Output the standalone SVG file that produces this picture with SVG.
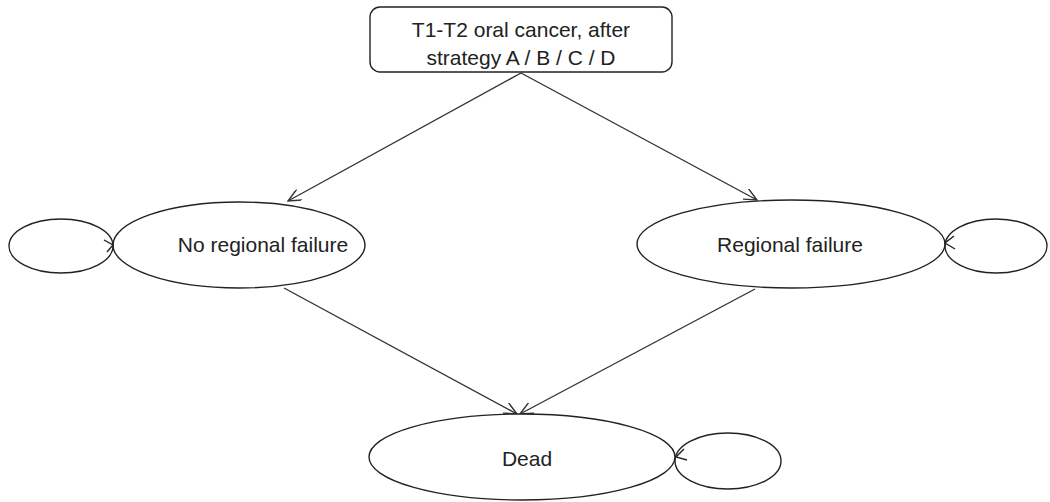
<svg xmlns="http://www.w3.org/2000/svg" width="1050" height="502" viewBox="0 0 1050 502">
<style>
.shape{fill:#fff;stroke:#222;stroke-width:1.4}
.loop{fill:none;stroke:#222;stroke-width:1.4}
.edge{fill:none;stroke:#333;stroke-width:1.4}
.lbl{font-family:"Liberation Sans",Arial,sans-serif;font-size:21px;fill:#222;text-anchor:middle}
</style>
<defs>
<marker id="arr" viewBox="0 0 14 12" refX="13" refY="6" markerWidth="14" markerHeight="12" markerUnits="userSpaceOnUse" orient="auto">
<path d="M0,0 L13,6 L0,12" fill="none" stroke="#333" stroke-width="1.4"/>
</marker>
</defs>
<g id="connectors">
<line class="edge" x1="521" y1="73" x2="288" y2="201" marker-end="url(#arr)"/>
<line class="edge" x1="521" y1="73" x2="757" y2="200" marker-end="url(#arr)"/>
<line class="edge" x1="284" y1="288" x2="517" y2="414" marker-end="url(#arr)"/>
<line class="edge" x1="755" y1="289" x2="520" y2="414" marker-end="url(#arr)"/>
</g>
<g id="node-start">
<rect class="shape" x="370" y="7" width="302" height="65" rx="10" ry="10"/>
<text class="lbl" x="521" y="37">T1-T2 oral cancer, after</text>
<text class="lbl" x="521" y="65">strategy A / B / C / D</text>
</g>
<g id="node-no-regional-failure">
<ellipse class="shape" cx="239" cy="245" rx="126" ry="43"/>
<text class="lbl" x="263" y="252">No regional failure</text>
</g>
<g id="node-regional-failure">
<ellipse class="shape" cx="791" cy="244" rx="154" ry="44"/>
<text class="lbl" x="790" y="252">Regional failure</text>
</g>
<g id="node-dead">
<ellipse class="shape" cx="522" cy="457" rx="153" ry="43"/>
<text class="lbl" x="527" y="466">Dead</text>
</g>
<g id="loops">
<ellipse class="loop" cx="61" cy="246" rx="52" ry="27"/>
<path class="loop" d="M104,240 L113,245 L107,252"/>
<ellipse class="loop" cx="996" cy="246" rx="51" ry="27"/>
<path class="loop" d="M954,236 L945,243 L955,249"/>
<ellipse class="loop" cx="728" cy="461" rx="53" ry="28"/>
<path class="loop" d="M684,449 L676,457 L687,460"/>
</g>
</svg>
